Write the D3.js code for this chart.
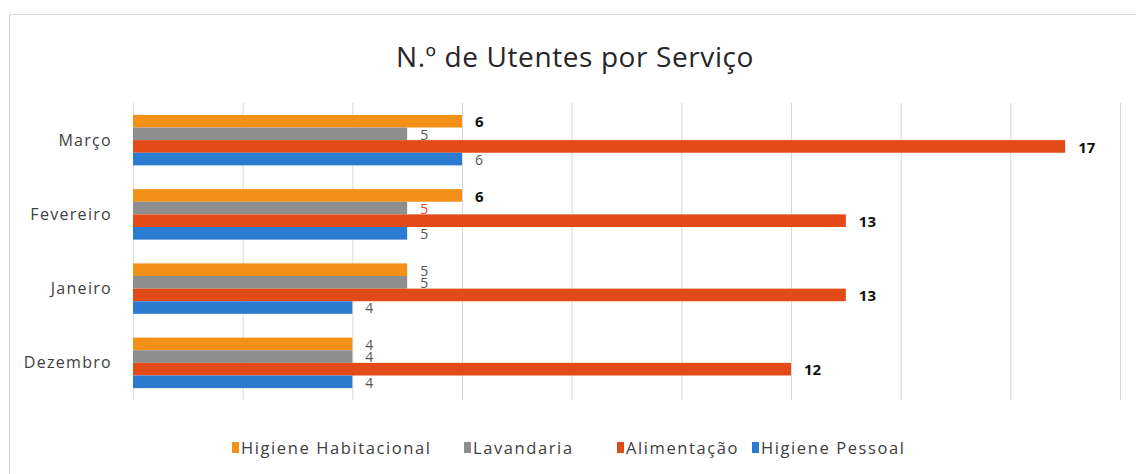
<!DOCTYPE html>
<html>
<head>
<meta charset="utf-8">
<script src="https://cdn.jsdelivr.net/npm/d3@7"></script>
<style>
  html, body { margin: 0; padding: 0; background: #fff; }
  svg { display: block; font-family: "Open Sans", "Liberation Sans", sans-serif; }
</style>
</head>
<body>
<svg id="chart" width="1136" height="474"></svg>
<script>
// months, top to bottom
const months = ['Março', 'Fevereiro', 'Janeiro', 'Dezembro'];
const seriesNames = ['Higiene Habitacional', 'Lavandaria', 'Alimentação', 'Higiene Pessoal'];
const seriesColors = ['#f39018', '#8e8e8e', '#e24a17', '#2b7bd1'];

const higieneHabitacional = [6, 6, 5, 4];
const lavandaria = [5, 5, 5, 4];
const alimentacao = [17, 13, 13, 12];
const higienePessoal = [6, 5, 4, 4];

const xTicks = [0, 2, 4, 6, 8, 10, 12, 14, 16, 18];

const values = [higieneHabitacional, lavandaria, alimentacao, higienePessoal];

const W = 1136, H = 474;
const margin = { top: 103, right: 15, bottom: 74, left: 133 };

const svg = d3.select('#chart');

// frame
svg.append('rect')
  .attr('x', 9.5).attr('y', 14.5)
  .attr('width', W - 6).attr('height', H)
  .attr('fill', 'none')
  .attr('stroke', '#d9d9d9');

svg.append('text')
  .attr('x', 575).attr('y', 67)
  .attr('text-anchor', 'middle')
  .attr('font-size', 28)
  .attr('letter-spacing', 0.6)
  .attr('fill', '#262626')
  .text('N.º de Utentes por Serviço');

const x = d3.scaleLinear().domain([0, 18]).range([margin.left, 1120]);
const y = d3.scaleBand().domain(months).range([margin.top, H - margin.bottom]).paddingInner(0.32).paddingOuter(0.16);
const ySub = d3.scaleBand().domain(d3.range(seriesNames.length)).range([0, y.bandwidth()]);

// gridlines
svg.append('g').selectAll('line')
  .data(xTicks)
  .join('line')
  .attr('x1', d => x(d) + 0.5).attr('x2', d => x(d) + 0.5)
  .attr('y1', margin.top).attr('y2', H - margin.bottom)
  .attr('stroke', '#d9d9d9');

// category labels
svg.append('g').selectAll('text')
  .data(months)
  .join('text')
  .attr('x', 112)
  .attr('y', d => y(d) + y.bandwidth() / 2)
  .attr('dy', '0.35em')
  .attr('text-anchor', 'end')
  .attr('font-size', 16)
  .attr('letter-spacing', 1.3)
  .attr('fill', '#404040')
  .text(d => d);

const rows = [];
months.forEach((m, i) => {
  values.forEach((arr, s) => rows.push({ month: m, s, v: arr[i] }));
});

svg.append('g').selectAll('rect')
  .data(rows)
  .join('rect')
  .attr('x', x(0))
  .attr('y', d => y(d.month) + ySub(d.s))
  .attr('width', d => x(d.v) - x(0))
  .attr('height', ySub.bandwidth())
  .attr('fill', d => seriesColors[d.s]);

// value labels: bold black for alimentação and the larger habitacional ones, grey otherwise
const isBold = d => d.s === 2 || (d.s === 0 && d.v >= 6);

svg.append('g').selectAll('text')
  .data(rows)
  .join('text')
  .attr('x', d => x(d.v) + 13)
  .attr('y', d => y(d.month) + ySub(d.s) + ySub.bandwidth() / 2 + 1)
  .attr('dy', '0.35em')
  .attr('font-size', d => isBold(d) ? 15 : 14)
  .attr('font-weight', d => isBold(d) ? 'bold' : 'normal')
  .attr('fill', d => {
    if (d.s === 1 && d.month === 'Fevereiro') return '#e24a17';
    return isBold(d) ? '#111' : '#555';
  })
  .text(d => d.v);

// legend
const legendX = [232, 464, 617, 752];
const legend = svg.append('g').selectAll('g')
  .data(seriesNames)
  .join('g')
  .attr('transform', (d, i) => `translate(${legendX[i]},448)`);

legend.append('rect')
  .attr('x', 0).attr('y', -6)
  .attr('width', 7).attr('height', 11)
  .attr('fill', (d, i) => seriesColors[i]);

legend.append('text')
  .attr('x', 9).attr('y', 0)
  .attr('dy', '0.35em')
  .attr('font-size', 16.5)
  .attr('letter-spacing', 1.6)
  .attr('fill', '#404040')
  .text(d => d);
</script>
</body>
</html>
